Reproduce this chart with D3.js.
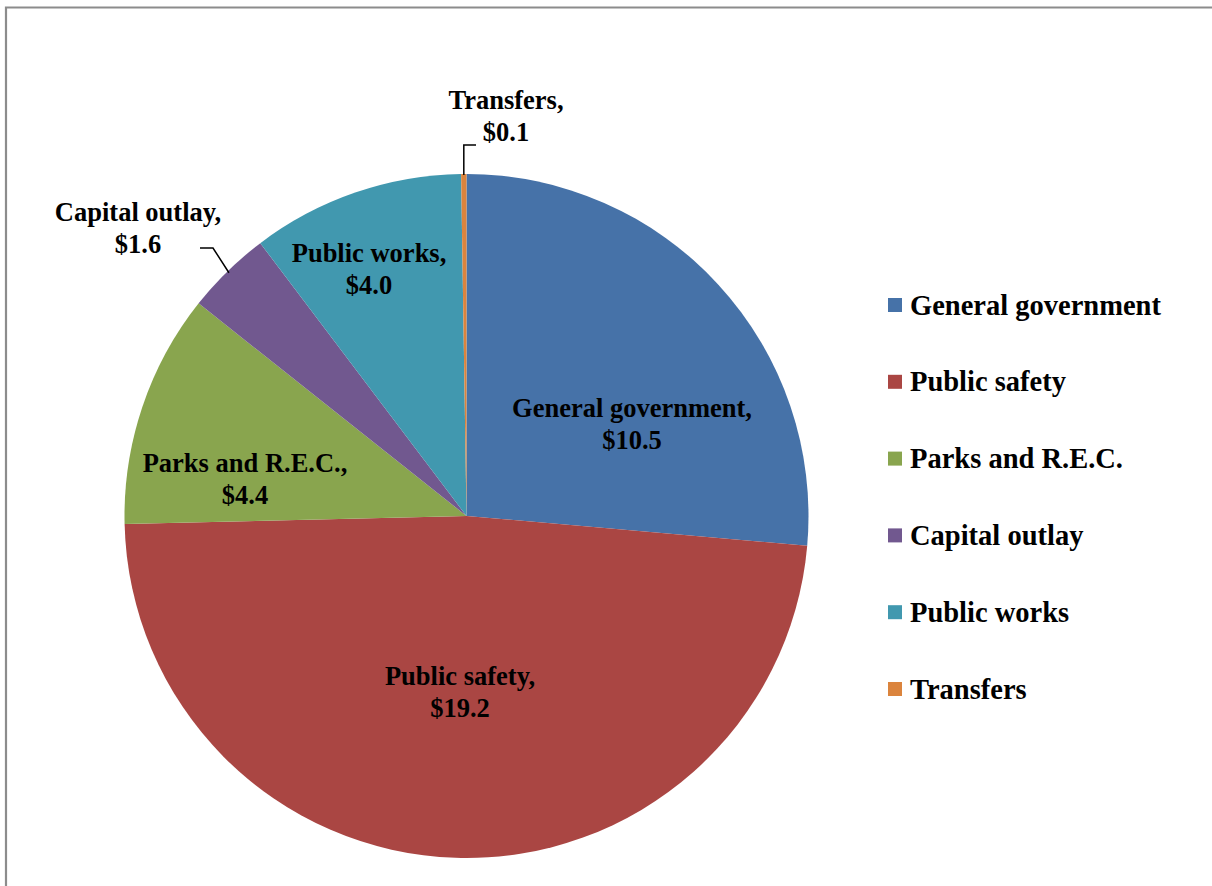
<!DOCTYPE html>
<html><head><meta charset="utf-8">
<script src="https://cdn.jsdelivr.net/npm/d3@7"></script>
<style>html,body{margin:0;padding:0;background:#fff;}svg{display:block;}</style>
</head><body>
<svg id="c" width="1212" height="886"></svg>
<script>
const categories = ["General government","Public safety","Parks and R.E.C.","Capital outlay","Public works","Transfers"];
const values = [10.5, 19.2, 4.4, 1.6, 4.0, 0.1];
const labelText = ["$10.5","$19.2","$4.4","$1.6","$4.0","$0.1"];
const colors = ["#4672A8","#AA4643","#89A54E","#71588F","#4198AF","#DB843D"];

const svg = d3.select("#c");
const font = "'Liberation Serif','Times New Roman',serif";
// frame
svg.append("path").attr("d","M6,886 V7.5 H1212").attr("fill","none").attr("stroke","#8c8c8c").attr("stroke-width",2.2);

const cx = 466.5, cy = 516, R = 342;
const data = categories.map((c,i)=>({name:c,value:values[i],label:labelText[i],color:colors[i]}));
const pie = d3.pie().value(d=>d.value).sort(null);
const arcs = pie(data);
const arc = d3.arc().innerRadius(0).outerRadius(R);
const g = svg.append("g").attr("transform",`translate(${cx},${cy})`);
g.selectAll("path").data(arcs).join("path").attr("d",arc).attr("fill",d=>d.data.color);

// label positions (offset relative to center): first line center
const labelPos = [[632-cx,408-cy],[460-cx,676-cy],[245-cx,463-cy],[138-cx,212-cy],[369-cx,253-cy],[506-cx,100-cy]];
const lg = svg.append("g").attr("transform",`translate(${cx},${cy})`);
arcs.forEach((a,i)=>{
  const [x,y] = labelPos[i];
  [a.data.name + ",", a.data.label].forEach((s,j)=>{
    lg.append("text").attr("x",x).attr("y",y + j*32).attr("text-anchor","middle").attr("dominant-baseline","central")
      .attr("font-family",font).attr("font-weight","bold").attr("font-size",26.5).attr("fill","#000").text(s);
  });
});
// leader lines
const ang = a => (a.startAngle + a.endAngle)/2;
const edge = (a,r) => [Math.sin(ang(a))*r, -Math.cos(ang(a))*r];
{
  const a = arcs[5]; const p = edge(a,R-1);
  lg.append("path").attr("d",`M${p[0]},${p[1]} V${145-cy} H${476-cx}`).attr("fill","none").attr("stroke","#000").attr("stroke-width",1.5);
}
{
  const a = arcs[3]; const p = edge(a,R-2);
  lg.append("path").attr("d",`M${p[0]},${p[1]} L${213-cx},${248-cy} H${200-cx}`).attr("fill","none").attr("stroke","#000").attr("stroke-width",1.5);
}

// legend
const leg = svg.append("g");
const ly0 = 305, lstep = 76.8;
data.forEach((d,i)=>{
  const y = ly0 + i*lstep;
  leg.append("rect").attr("x",888).attr("y",y-7).attr("width",14).attr("height",14).attr("fill",d.color);
  leg.append("text").attr("x",910).attr("y",y).attr("dominant-baseline","central")
    .attr("font-family",font).attr("font-weight","bold").attr("font-size",28.5).attr("fill","#000").text(d.name);
});
</script>
</body></html>
